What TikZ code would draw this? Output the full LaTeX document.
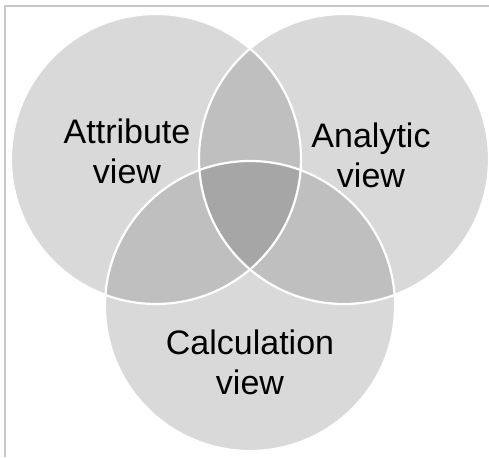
\documentclass[tikz,border=0pt]{standalone}
\usepackage{fontspec}
\setmainfont{Liberation Sans}
\definecolor{cfill}{HTML}{D9D9D9}
\definecolor{ctwo}{HTML}{BFBFBF}
\definecolor{cthree}{HTML}{A6A6A6}
\definecolor{cframe}{HTML}{C8C8C8}
\begin{document}
\begin{tikzpicture}[x=1pt,y=-1pt,
  lbl/.style={align=center,font=\fontsize{34}{40}\selectfont,text=black,inner sep=0pt},
  ring/.style={draw=white,line width=2.2pt}]
\useasboundingbox (0,0) rectangle (489,457);
\fill[white] (0,0) rectangle (489,457);
\draw[cframe,line width=2pt] (4,6) -- (489,6);
\draw[cframe,line width=2pt] (5,6) -- (5,457);
\def\R{145}
\coordinate (cA) at (156,159);
\coordinate (cB) at (344,159);
\coordinate (cC) at (250,306);
\fill[cfill] (cA) circle (\R);
\fill[cfill] (cB) circle (\R);
\fill[cfill] (cC) circle (\R);
\begin{scope}
  \clip (cA) circle (\R);
  \fill[ctwo] (cB) circle (\R);
  \fill[ctwo] (cC) circle (\R);
\end{scope}
\begin{scope}
  \clip (cB) circle (\R);
  \fill[ctwo] (cC) circle (\R);
\end{scope}
\begin{scope}
  \clip (cA) circle (\R);
  \clip (cB) circle (\R);
  \fill[cthree] (cC) circle (\R);
\end{scope}
\draw[ring] (cA) circle (\R);
\draw[ring] (cB) circle (\R);
\draw[ring] (cC) circle (\R);
\node[lbl] (attr) at (127,151) {Attribute\\view};
\node[lbl] (anal) at (371,155) {Analytic\\view};
\node[lbl] (calc) at (250,362) {Calculation\\view};
\end{tikzpicture}
\end{document}
